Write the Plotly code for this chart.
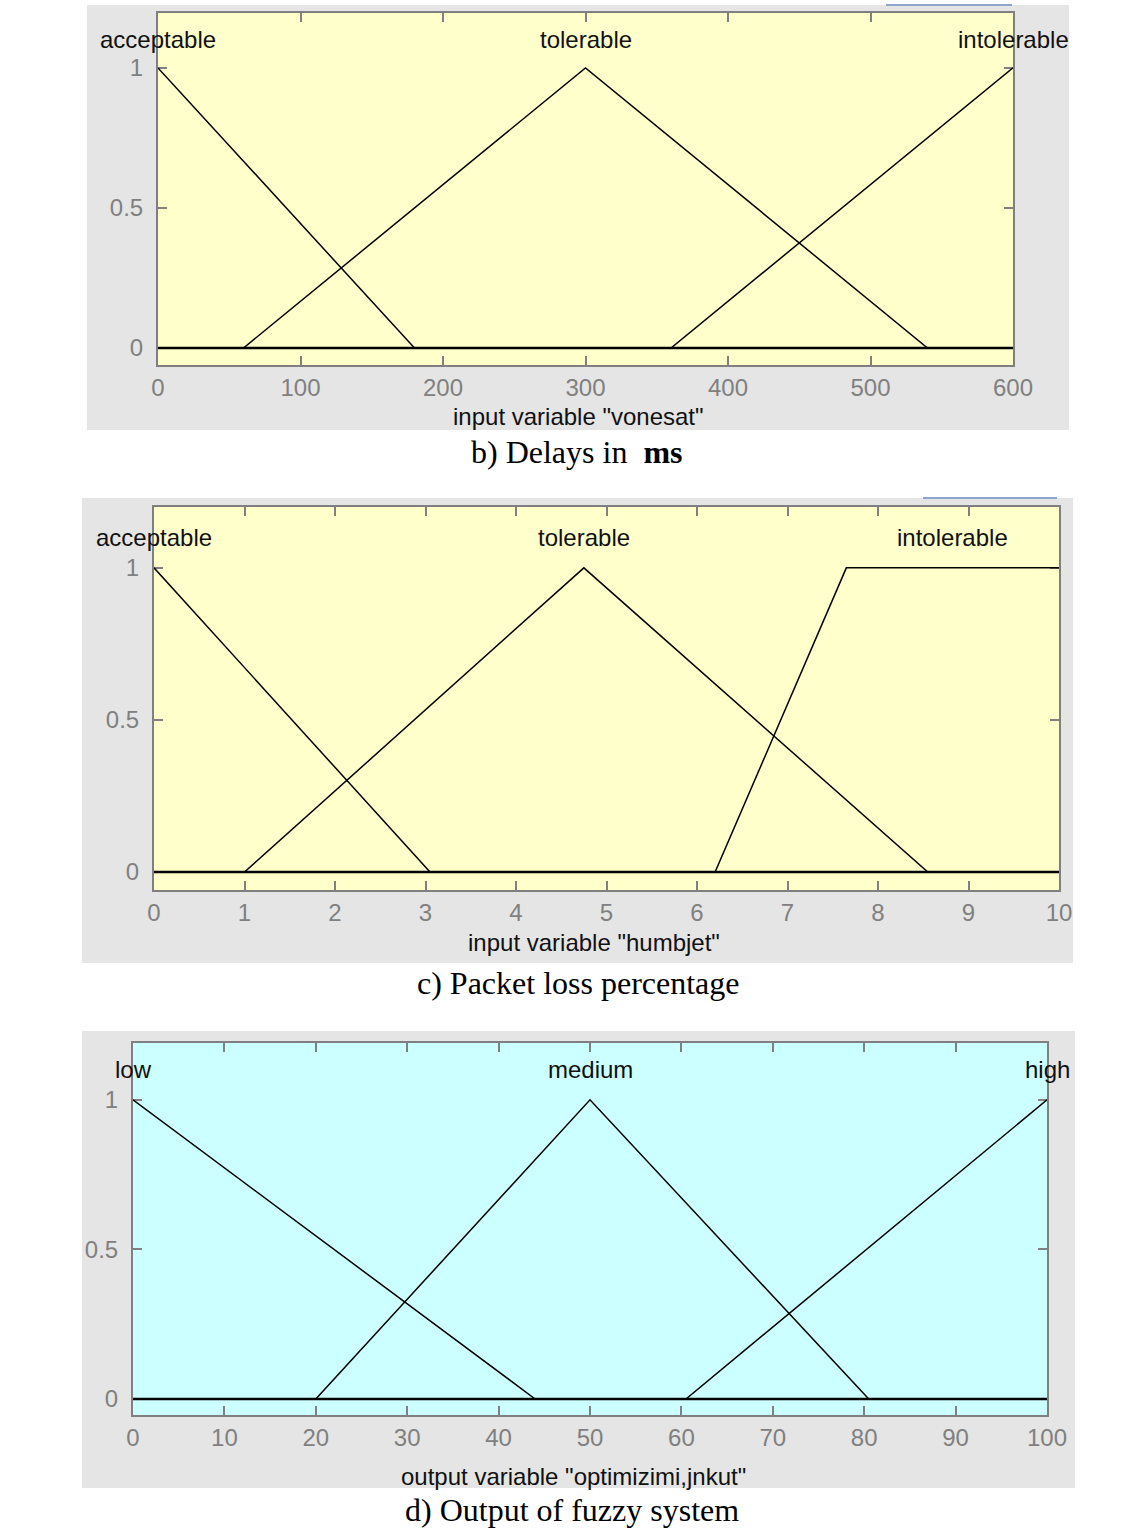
import plotly.graph_objects as go

# ---------------- data ----------------
# b) Delays in ms  (input variable "vonesat")
delay_range = [0, 600]
delay_ticks = [0, 100, 200, 300, 400, 500, 600]
delay_terms = ["acceptable", "tolerable", "intolerable"]
delay_acceptable_x = [0, 180, 600]
delay_acceptable_y = [1, 0, 0]
delay_tolerable_x = [0, 60, 300, 540, 600]
delay_tolerable_y = [0, 0, 1, 0, 0]
delay_intolerable_x = [0, 360, 600]
delay_intolerable_y = [0, 0, 1]

# c) Packet loss percentage (input variable "humbjet")
loss_range = [0, 10]
loss_ticks = [0, 1, 2, 3, 4, 5, 6, 7, 8, 9, 10]
loss_terms = ["acceptable", "tolerable", "intolerable"]
loss_acceptable_x = [0, 3.05, 10]
loss_acceptable_y = [1, 0, 0]
loss_tolerable_x = [0, 1.0, 4.75, 8.55, 10]
loss_tolerable_y = [0, 0, 1, 0, 0]
loss_intolerable_x = [0, 6.2, 7.65, 10]
loss_intolerable_y = [0, 0, 1, 1]

# d) Output of fuzzy system (output variable "optimizimi,jnkut")
out_range = [0, 100]
out_ticks = [0, 10, 20, 30, 40, 50, 60, 70, 80, 90, 100]
out_terms = ["low", "medium", "high"]
out_low_x = [0, 44, 100]
out_low_y = [1, 0, 0]
out_medium_x = [0, 20, 50, 80.5, 100]
out_medium_y = [0, 0, 1, 0, 0]
out_high_x = [0, 60.5, 100]
out_high_y = [0, 0, 1]

y_ticks = [0, 0.5, 1]
y_ticklabels = ["0", "0.5", "1"]

# ---------------- layout helpers ----------------
W, H = 1142, 1529
def px(x):
    return x / W
def py(y):
    return 1 - y / H

panels = [
    dict(ax="", terms=delay_terms,
         mfs=[(delay_acceptable_x, delay_acceptable_y),
              (delay_tolerable_x, delay_tolerable_y),
              (delay_intolerable_x, delay_intolerable_y)],
         xr=delay_range, ticks=delay_ticks,
         dom_x=(158, 1013), dom_y=(365, 13), yr=[-0.0607, 1.196],
         bg="#FFFFCC", grey=(87, 5, 1069, 430),
         xlabel='input variable "vonesat"', xl_pos=(578, 417),
         caption="b) Delays in \u00a0<b>ms</b>", cap_pos=(577, 452),
         blue=(886, 5, 1012, 5)),
    dict(ax="2", terms=loss_terms,
         mfs=[(loss_acceptable_x, loss_acceptable_y),
              (loss_tolerable_x, loss_tolerable_y),
              (loss_intolerable_x, loss_intolerable_y)],
         xr=loss_range, ticks=loss_ticks,
         dom_x=(154, 1059), dom_y=(890, 507), yr=[-0.059, 1.2],
         bg="#FFFFCC", grey=(82, 498, 1073, 963),
         xlabel='input variable "humbjet"', xl_pos=(594, 942),
         caption="c) Packet loss percentage", cap_pos=(578, 983),
         blue=(923, 498, 1057, 498)),
    dict(ax="3", terms=out_terms,
         mfs=[(out_low_x, out_low_y),
              (out_medium_x, out_medium_y),
              (out_high_x, out_high_y)],
         xr=out_range, ticks=out_ticks,
         dom_x=(133, 1047), dom_y=(1415, 1043), yr=[-0.0535, 1.19],
         bg="#CCFFFF", grey=(82, 1031, 1075, 1488),
         xlabel='output variable "optimizimi,jnkut"', xl_pos=(573, 1476),
         caption="d) Output of fuzzy system", cap_pos=(572, 1510),
         blue=None),
]

fig = go.Figure()
shapes = []
annotations = []
sans = "Liberation Sans, Arial, sans-serif"
serif = "Liberation Serif, Times New Roman, serif"
grey_txt = "#808080"

for p in panels:
    a = p["ax"]
    xref = "x" + a
    yref = "y" + a
    gx0, gy0, gx1, gy1 = p["grey"]
    shapes.append(dict(type="rect", xref="paper", yref="paper",
                       x0=px(gx0), x1=px(gx1), y0=py(gy1), y1=py(gy0),
                       fillcolor="#E5E5E5", line=dict(width=0), layer="below"))
    shapes.append(dict(type="rect", xref=xref + " domain", yref=yref + " domain",
                       x0=0, x1=1, y0=0, y1=1,
                       fillcolor=p["bg"], line=dict(width=0), layer="below"))
    if p["blue"]:
        bx0, by0, bx1, by1 = p["blue"]
        shapes.append(dict(type="line", xref="paper", yref="paper",
                           x0=px(bx0), x1=px(bx1), y0=py(by0), y1=py(by1),
                           line=dict(color="#8EA6CF", width=2)))
    # zero-membership baseline where all MFs overlap (drawn over the full range)
    fig.add_trace(go.Scatter(x=p["xr"], y=[0, 0], mode="lines",
                             line=dict(color="black", width=2.6),
                             xaxis=xref, yaxis=yref, showlegend=False,
                             hoverinfo="skip"))
    for (mx, my), name in zip(p["mfs"], p["terms"]):
        fig.add_trace(go.Scatter(x=mx, y=my, mode="lines", name=name,
                                 line=dict(color="black", width=1.5),
                                 xaxis=xref, yaxis=yref, showlegend=False,
                                 hoverinfo="skip"))
        top = [xx for xx, yy in zip(mx, my) if yy == max(my)]
        lx = (min(top) + max(top)) / 2
        annotations.append(dict(x=lx, y=1.1, xref=xref, yref=yref, text=name,
                                showarrow=False, xanchor="center", yanchor="middle",
                                font=dict(family=sans, size=24, color="#111111")))
    xlx, xly = p["xl_pos"]
    annotations.append(dict(x=px(xlx), y=py(xly), xref="paper", yref="paper",
                            text=p["xlabel"], showarrow=False,
                            xanchor="center", yanchor="middle",
                            font=dict(family=sans, size=24, color="#111111")))
    cx, cy = p["cap_pos"]
    annotations.append(dict(x=px(cx), y=py(cy), xref="paper", yref="paper",
                            text=p["caption"], showarrow=False,
                            xanchor="center", yanchor="middle",
                            font=dict(family=serif, size=32, color="black")))

    xa = dict(domain=[px(p["dom_x"][0]), px(p["dom_x"][1])], range=p["xr"],
              anchor=yref, tickmode="array", tickvals=p["ticks"],
              ticktext=[str(t) for t in p["ticks"]],
              ticks="inside", ticklen=9, tickwidth=1.5, tickcolor="#808080",
              showline=True, linecolor="#808080", linewidth=2, mirror="ticks",
              showgrid=False, zeroline=False, ticklabelstandoff=0, automargin=False,
              layer="below traces",
              tickfont=dict(family=sans, size=24, color=grey_txt), fixedrange=True)
    ya = dict(domain=[py(p["dom_y"][0]), py(p["dom_y"][1])], range=p["yr"],
              anchor=xref, tickmode="array", tickvals=y_ticks, ticktext=y_ticklabels,
              ticks="inside", ticklen=9, tickwidth=1.5, tickcolor="#808080",
              showline=True, linecolor="#808080", linewidth=2, mirror="ticks",
              showgrid=False, zeroline=False,
              ticklabelstandoff=8, automargin=False, layer="below traces",
              tickfont=dict(family=sans, size=24, color=grey_txt), fixedrange=True)
    fig.update_layout(**{"xaxis" + a: xa, "yaxis" + a: ya})

fig.update_layout(width=W, height=H,
                  margin=dict(l=0, r=0, t=0, b=0, pad=0, autoexpand=False),
                  paper_bgcolor="white", plot_bgcolor="rgba(0,0,0,0)",
                  shapes=shapes, annotations=annotations, showlegend=False)

fig.write_html("out.html", config={"responsive": False, "displayModeBar": False},
               post_script="document.body.style.margin='0';"
                           "document.body.style.overflow='hidden';")
